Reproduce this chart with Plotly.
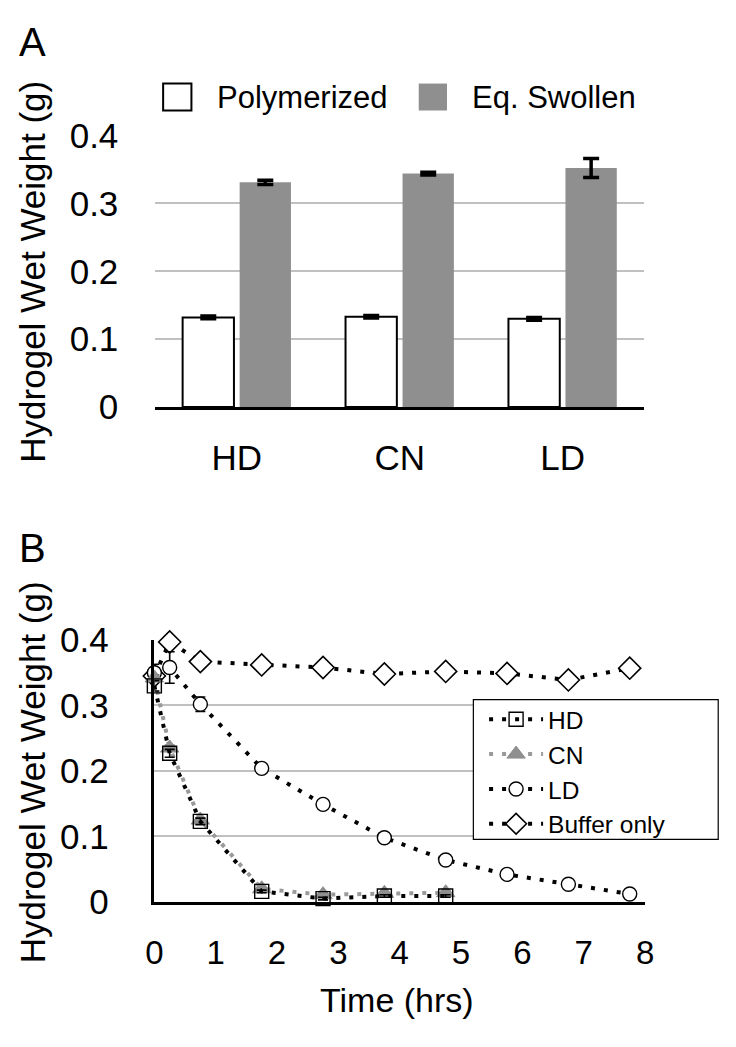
import plotly.graph_objects as go

W, H = 736, 1047
FONT = "Liberation Sans, Arial, Helvetica, sans-serif"

# ---------------- Panel A data ----------------
categories = ["HD", "CN", "LD"]
polymerized = [0.132, 0.133, 0.130]
polymerized_err = [0.002, 0.002, 0.002]
swollen = [0.331, 0.344, 0.352]
swollen_err = [0.003, 0.002, 0.014]

# ---------------- Panel B data ----------------
time_hd = [0, 0.25, 0.75, 1.75, 2.75, 3.75, 4.75]
hd = [0.330, 0.227, 0.123, 0.016, 0.005, 0.009, 0.009]
hd_err = [0.008, 0.006, 0.005, 0.002, 0.002, 0.002, 0.002]

time_cn = [0, 0.25, 0.75, 1.75, 2.75, 3.75, 4.75]
cn = [0.342, 0.235, 0.125, 0.020, 0.011, 0.013, 0.014]
cn_err = [0.005, 0.004, 0.003, 0.002, 0.002, 0.002, 0.002]

time_ld = [0, 0.25, 0.75, 1.75, 2.75, 3.75, 4.75, 5.75, 6.75, 7.75]
ld = [0.350, 0.358, 0.302, 0.204, 0.149, 0.098, 0.064, 0.042, 0.027, 0.012]
ld_err = [0.013, 0.024, 0.011, 0.002, 0.002, 0.002, 0.002, 0.005, 0.003, 0.002]

time_buf = [0, 0.25, 0.75, 1.75, 2.75, 3.75, 4.75, 5.75, 6.75, 7.75]
buf = [0.345, 0.397, 0.367, 0.362, 0.358, 0.348, 0.352, 0.349, 0.339, 0.357]

y_ticks = [0, 0.1, 0.2, 0.3, 0.4]
y_ticktext = ["0", "0.1", "0.2", "0.3", "0.4"]
x_ticks_b = [0, 1, 2, 3, 4, 5, 6, 7, 8]


def px(x):
    return x / W


def py(y):
    return 1 - y / H


GRID = "#c0c0c0"
GRAY = "#8f8f8f"
DOT = "4px,9px"

fig = go.Figure()

# Panel A bars
fig.add_trace(go.Bar(
    x=categories, y=polymerized, name="Polymerized",
    marker=dict(color="white", line=dict(color="black", width=2)),
    error_y=dict(type="data", array=polymerized_err, color="black", thickness=3.5, width=8),
    xaxis="x", yaxis="y", showlegend=False,
))
fig.add_trace(go.Bar(
    x=categories, y=swollen, name="Eq. Swollen",
    marker=dict(color=GRAY, line=dict(width=0)),
    error_y=dict(type="data", array=swollen_err, color="black", thickness=3.5, width=8),
    xaxis="x", yaxis="y", showlegend=False,
))

# Panel B lines
common = dict(xaxis="x2", yaxis="y2", mode="lines+markers", cliponaxis=False, legend="legend2")
fig.add_trace(go.Scatter(
    x=time_buf, y=buf, name="Buffer only", legendrank=4,
    line=dict(color="black", width=4, dash=DOT),
    marker=dict(symbol="diamond", size=17, color="white", line=dict(color="black", width=1.6)),
    **common,
))
fig.add_trace(go.Scatter(
    x=time_ld, y=ld, name="LD", legendrank=3,
    line=dict(color="black", width=4, dash=DOT),
    marker=dict(symbol="circle", size=14, color="white", line=dict(color="black", width=1.4)),
    error_y=dict(type="data", array=ld_err, color="black", thickness=1.6, width=5),
    **common,
))
fig.add_trace(go.Scatter(
    x=time_cn, y=cn, name="CN", legendrank=2,
    line=dict(color="#9a9a9a", width=4, dash=DOT),
    marker=dict(symbol="triangle-up", size=16, color=GRAY, line=dict(color=GRAY, width=1)),
    error_y=dict(type="data", array=cn_err, color="#555555", thickness=1.6, width=5),
    **common,
))
fig.add_trace(go.Scatter(
    x=time_hd, y=hd, name="HD", legendrank=1,
    line=dict(color="black", width=4, dash=DOT),
    marker=dict(symbol="square", size=14, color="rgba(255,255,255,0)", line=dict(color="black", width=1.4)),
    error_y=dict(type="data", array=hd_err, color="black", thickness=1.6, width=5),
    **common,
))

axis_font = dict(family=FONT, size=35, color="black")

fig.update_layout(
    width=W, height=H,
    margin=dict(l=0, r=0, t=0, b=0),
    paper_bgcolor="white", plot_bgcolor="white",
    font=dict(family=FONT, color="black"),
    barmode="group", bargap=0.30, bargroupgap=0.10,
    xaxis=dict(
        domain=[px(150), px(651)], anchor="y",
        showline=True, linecolor="black", linewidth=2.5,
        showgrid=False, ticks="", tickfont=axis_font, ticklabelstandoff=18,
        fixedrange=True,
    ),
    yaxis=dict(
        domain=[py(402), py(120)], anchor="x", range=[0, 0.4],
        tickvals=y_ticks, ticktext=y_ticktext,
        showline=False, showgrid=True, gridcolor=GRID, gridwidth=2,
        zeroline=False, ticks="", tickfont=axis_font, ticklabelstandoff=36,
    ),
    xaxis2=dict(
        domain=[px(149), px(652)], anchor="y2", range=[0, 8],
        tickvals=x_ticks_b,
        showline=True, linecolor="black", linewidth=3,
        showgrid=False, zeroline=False, ticks="", tickfont=dict(family=FONT, size=33, color="black"),
        ticklabelstandoff=20,
    ),
    yaxis2=dict(
        domain=[py(916), py(644)], anchor="x2", range=[0, 0.4],
        tickvals=y_ticks, ticktext=y_ticktext,
        showline=True, linecolor="black", linewidth=2.5,
        showgrid=True, gridcolor=GRID, gridwidth=2,
        zeroline=False, ticks="", tickfont=axis_font, ticklabelstandoff=36,
    ),
    legend2=dict(
        x=px(487), y=py(703), xanchor="left", yanchor="top",
        bgcolor="rgba(0,0,0,0)", borderwidth=0,
        font=dict(family=FONT, size=24.5, color="black"),
        itemwidth=54, tracegroupgap=0,
    ),
    showlegend=True,
)

annotations = [
    dict(text="A", x=px(8), y=py(23), xanchor="left", yanchor="middle", font=dict(size=40)),
    dict(text="B", x=px(8), y=py(548), xanchor="left", yanchor="middle", font=dict(size=40)),
    dict(text="Hydrogel Wet Weight (g)", x=px(24), y=py(261), textangle=-90,
         xanchor="center", yanchor="middle", font=dict(size=35)),
    dict(text="Hydrogel Wet Weight (g)", x=px(24), y=py(781), textangle=-90,
         xanchor="center", yanchor="middle", font=dict(size=35)),
    dict(text="Time (hrs)", x=px(398), y=py(1018), xanchor="center", yanchor="middle",
         font=dict(size=34)),
    dict(text="Polymerized", x=px(211), y=py(80), xanchor="left", yanchor="middle",
         font=dict(size=31)),
    dict(text="Eq. Swollen", x=px(473), y=py(80), xanchor="left", yanchor="middle",
         font=dict(size=31)),
]
for a in annotations:
    a.update(xref="paper", yref="paper", showarrow=False)
    a["font"].update(family=FONT, color="black")
fig.update_layout(annotations=annotations)

fig.update_layout(shapes=[
    # legend A swatches
    dict(type="rect", xref="paper", yref="paper", x0=px(158), x1=px(187), y0=py(94), y1=py(66),
         fillcolor="white", line=dict(color="black", width=2)),
    dict(type="rect", xref="paper", yref="paper", x0=px(420), x1=px(449), y0=py(94), y1=py(66),
         fillcolor=GRAY, line=dict(width=0)),
    # legend B frame
    dict(type="rect", xref="paper", yref="paper", x0=px(476), x1=px(727), y0=py(851), y1=py(706),
         fillcolor="white", line=dict(color="black", width=1.2), layer="above"),
])

fig.write_html(
    "out.html",
    config={"displayModeBar": False},
    post_script="document.body.style.margin='0';document.body.style.padding='0';",
)
